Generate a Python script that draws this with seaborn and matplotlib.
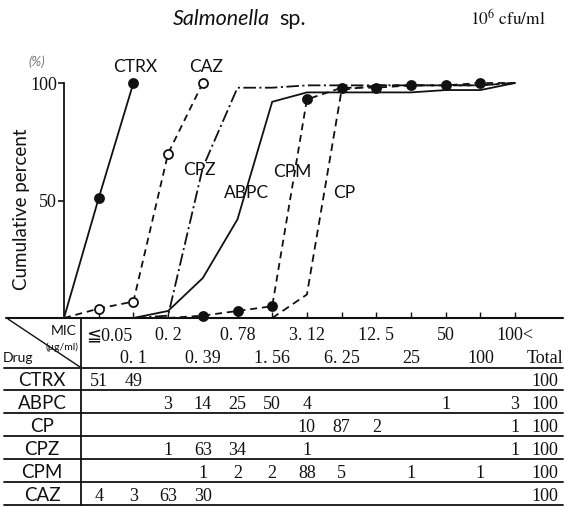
import numpy as np
import pandas as pd
import matplotlib
matplotlib.use("Agg")
import matplotlib.pyplot as plt
import matplotlib.transforms as mtransforms
from matplotlib.lines import Line2D
import seaborn as sns

# MIC classes (µg/ml) and the distribution of strains per drug (%)
mic_labels = ["≦0.05", "0. 1", "0. 2", "0. 39", "0. 78", "1. 56", "3. 12",
              "6. 25", "12. 5", "25", "50", "100", "100<"]
drugs = ["CTRX", "ABPC", "CP", "CPZ", "CPM", "CAZ"]
ctrx = [51, 49, 0, 0, 0, 0, 0, 0, 0, 0, 0, 0, 0]
abpc = [0, 0, 3, 14, 25, 50, 4, 0, 0, 0, 1, 0, 3]
cp = [0, 0, 0, 0, 0, 0, 10, 87, 2, 0, 0, 0, 1]
cpz = [0, 0, 1, 63, 34, 0, 1, 0, 0, 0, 0, 0, 1]
cpm = [0, 0, 0, 1, 2, 2, 88, 5, 0, 1, 0, 1, 0]
caz = [4, 3, 63, 30, 0, 0, 0, 0, 0, 0, 0, 0, 0]
totals = [100, 100, 100, 100, 100, 100]
counts = {"CTRX": ctrx, "ABPC": abpc, "CP": cp, "CPZ": cpz, "CPM": cpm, "CAZ": caz}

sns.set_style("ticks")
plt.rcParams["font.family"] = ["Lato", "DejaVu Sans"]
plt.rcParams["mathtext.fontset"] = "stix"
plt.rcParams["lines.scale_dashes"] = False

SERIF = ["Liberation Serif", "DejaVu Sans", "Noto Sans CJK JP"]
INK = "#111111"
W, H = 564, 507
fig = plt.figure(figsize=(W / 100, H / 100), dpi=100)

def fx(px):
    return px / W

def fy(py):
    return 1 - py / H

# plot area: origin at (64, 318) px, 34.7 px per MIC class, 2.35 px per percent
unit = 34.7
ax = fig.add_axes([fx(64), fy(318), 13.3 * unit / W, 235 / H])
ax.set_xlim(0, 13.3)
ax.set_ylim(0, 100)


def cumulative_curve(name, last_col):
    vals = np.asarray(counts[name])
    first = int(np.nonzero(vals)[0][0])
    cols = np.arange(first, last_col + 1)
    xs = np.concatenate([[first], cols + 1])
    ys = np.concatenate([[0], np.cumsum(vals)[cols]])
    return pd.DataFrame({"x": xs, "y": ys})


styles = {
    "CTRX": dict(last=1, ls="-", marker="o", mfc=INK, every=slice(1, None)),
    "CAZ": dict(last=3, ls=(0, (5, 3.5)), marker="o", mfc="white", every=slice(1, None)),
    "CPZ": dict(last=12, ls=(0, (9, 2.5, 1.5, 2.5)), marker=None, mfc=None, every=None),
    "ABPC": dict(last=12, ls="-", marker=None, mfc=None, every=None),
    "CPM": dict(last=12, ls=(0, (5, 3.5)), marker="o", mfc=INK, every=slice(1, -1)),
    "CP": dict(last=12, ls=(0, (5.5, 3.5)), marker=None, mfc=None, every=None),
}

for name, st in styles.items():
    df = cumulative_curve(name, st["last"])
    kw = dict(color=INK, lw=1.3, linestyle=st["ls"], clip_on=False, zorder=3)
    if st["marker"]:
        kw.update(marker=st["marker"], markersize=6.5, markerfacecolor=st["mfc"],
                  markeredgecolor=INK, markeredgewidth=1.3, markevery=st["every"])
    sns.lineplot(data=df, x="x", y="y", ax=ax, sort=False, estimator=None, **kw)

# curve names
label_pos = {"CTRX": (2.05, 107), "CAZ": (4.1, 107), "CPZ": (3.9, 63),
             "ABPC": (5.25, 53), "CPM": (6.57, 62), "CP": (8.07, 53)}
for name, (lx, ly) in label_pos.items():
    ax.text(lx, ly, name, ha="center", va="center", fontsize=12.5, color=INK, clip_on=False)

for s in ["top", "right", "bottom"]:
    ax.spines[s].set_visible(False)
ax.spines["left"].set_linewidth(1.3)
ax.spines["left"].set_color(INK)
ax.set_yticks([50, 100])
ax.set_yticklabels(["50", "100"], fontfamily=SERIF, fontsize=13, color=INK)
ax.tick_params(axis="y", direction="out", length=4, width=1.2, pad=1, color=INK)
ax.set_xticks(np.arange(1, 14))
ax.set_xticklabels([])
ax.tick_params(axis="x", direction="in", length=4, width=1.0, color=INK)
ax.set_xlabel("")
ax.set_ylabel("")

fig.text(fx(22), fy(209), "Cumulative percent", rotation=90, ha="center", va="center",
         fontsize=13.5, color=INK)
fig.text(fx(37), fy(62), "(%)", ha="center", va="center", fontsize=9.5,
         color="#777777", style="italic")

# title
fig.text(fx(270), fy(25), "Salmonella", style="italic", ha="right", va="baseline",
         fontsize=15.5, color=INK)
fig.text(fx(279), fy(25), "sp.", ha="left", va="baseline", fontsize=15.5, color=INK)
fig.text(fx(470), fy(25), r"$10^6\ \mathrm{cfu/ml}$", ha="left", va="baseline",
         fontsize=12.5, color=INK)

# ---- table below the axis ----
def hline(py, x0=4, x1=563, lw=1.3):
    fig.add_artist(Line2D([fx(x0), fx(x1)], [fy(py), fy(py)], color=INK, lw=lw))

hline(318, 6, 563, 1.5)
row_edges = [368, 390, 413, 436, 459, 482, 505]
for py in row_edges:
    hline(py)
fig.add_artist(Line2D([fx(81), fx(81)], [fy(318), fy(505)], color=INK, lw=1.3))
fig.add_artist(Line2D([fx(8), fx(80)], [fy(319), fy(367)], color=INK, lw=1.0))

fig.text(fx(77), fy(331), "MIC", ha="right", va="center", fontsize=10, color=INK)
fig.text(fx(79), fy(347), "(μg/ml)", ha="right", va="center", fontsize=7.5, color=INK)
fig.text(fx(3), fy(358), "Drug", ha="left", va="center", fontsize=10, color=INK)

# column headers share the x scale of the plot
blend = mtransforms.blended_transform_factory(ax.transData, fig.transFigure)
for i, lab in enumerate(mic_labels):
    base = 340 if i % 2 == 0 else 363
    fig.text(i + 1 + (0.3 if i == 0 else 0), fy(base), lab, transform=blend,
             ha="center", va="baseline", fontsize=13, fontfamily=SERIF, color=INK)
fig.text(13.85, fy(363), "Total", transform=blend, ha="center", va="baseline",
         fontsize=13, fontfamily=SERIF, color=INK)

for r, name in enumerate(drugs):
    top, bot = row_edges[r], row_edges[r + 1]
    fig.text(fx(42), fy(bot - 4), name, ha="center", va="baseline", fontsize=13.5, color=INK)
    for i, v in enumerate(counts[name]):
        if v:
            fig.text(i + 1, fy(bot - 4), str(v), transform=blend, ha="center",
                     va="baseline", fontsize=13, fontfamily=SERIF, color=INK)
    fig.text(13.85, fy(bot - 4), str(totals[r]), transform=blend, ha="center",
             va="baseline", fontsize=13, fontfamily=SERIF, color=INK)

fig.savefig("out.png", dpi=100)
